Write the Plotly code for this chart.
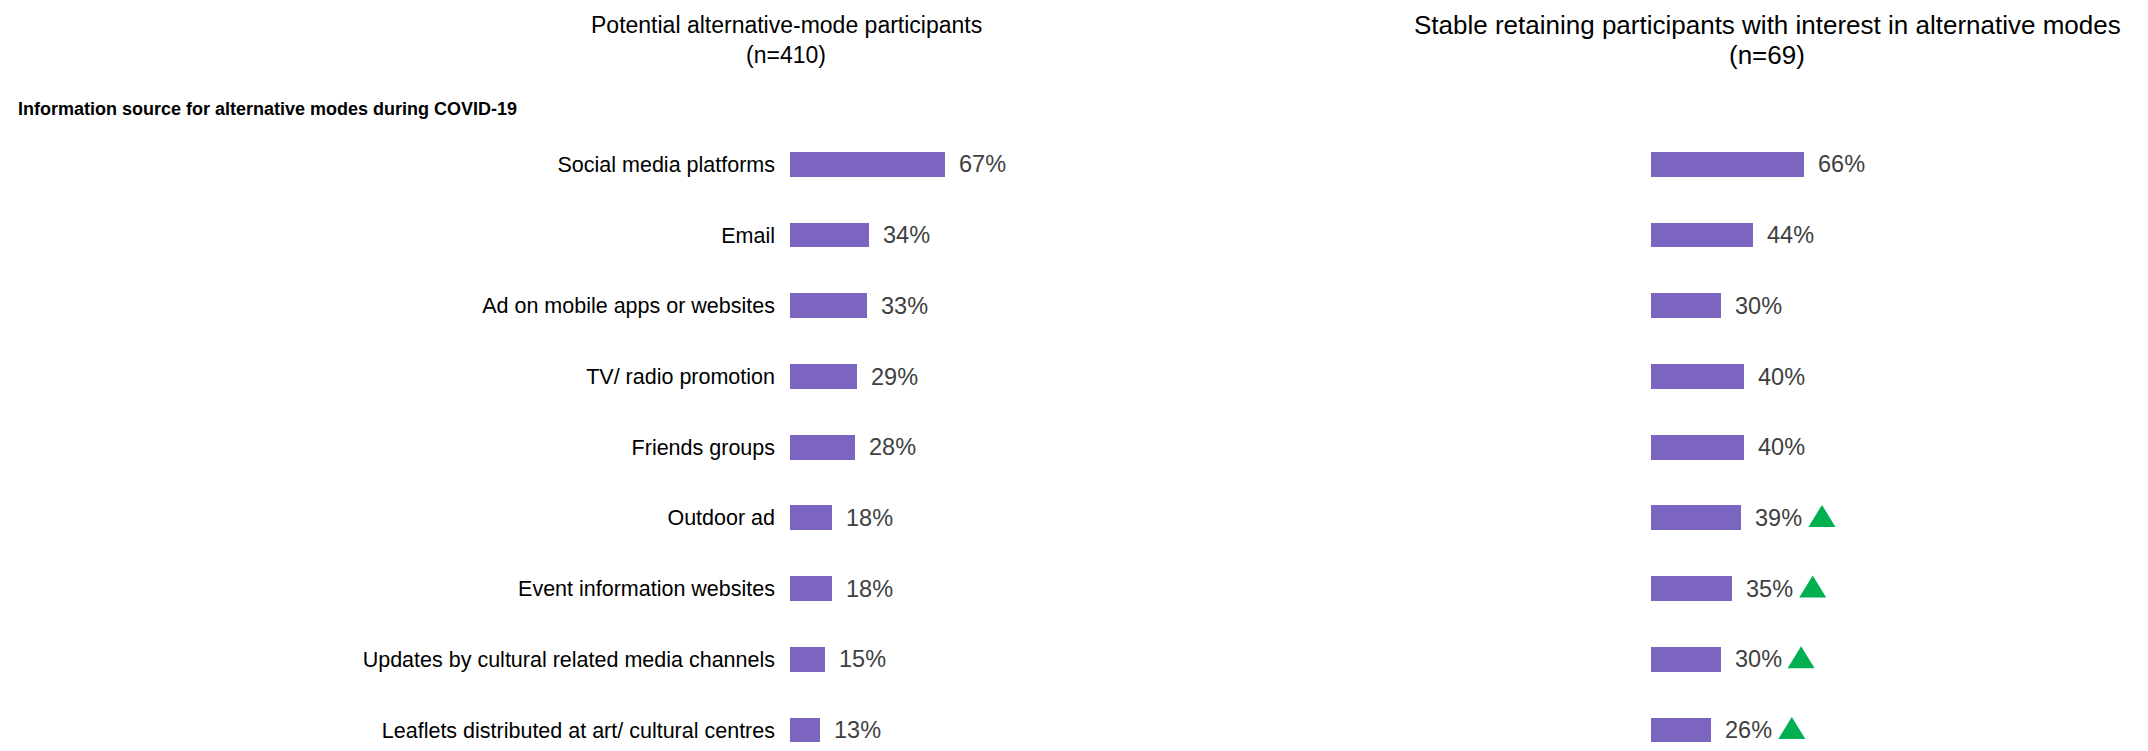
import plotly.graph_objects as go

# ---- data ----
categories = [
    "Social media platforms",
    "Email",
    "Ad on mobile apps or websites",
    "TV/ radio promotion",
    "Friends groups",
    "Outdoor ad",
    "Event information websites",
    "Updates by cultural related media channels",
    "Leaflets distributed at art/ cultural centres",
]
potential_pct = [67, 34, 33, 29, 28, 18, 18, 15, 13]
stable_pct = [66, 44, 30, 40, 40, 39, 35, 30, 26]
stable_up = [False, False, False, False, False, True, True, True, True]

left_title = ["Potential alternative-mode participants", "(n=410)"]
right_title = ["Stable retaining participants with interest in alternative modes", "(n=69)"]
section_title = "Information source for alternative modes during COVID-19"

# page is 2148x751, the html body adds an 8px margin around the figure
PAGE_W, PAGE_H, BODY = 2148, 751, 8
W, H = PAGE_W - 2 * BODY, PAGE_H - 2 * BODY


def px(x):
    return (x - BODY) / W


def py(y):
    return 1 - (y - BODY) / H


FONT = "Liberation Sans, Arial, sans-serif"
BAR = "#7C64C1"
GREEN = "#00B050"
PCT_GREY = "#404040"

fig = go.Figure()

fig.add_trace(go.Bar(
    x=potential_pct, y=categories, orientation="h",
    marker=dict(color=BAR, line=dict(width=0)),
    width=0.352, xaxis="x", yaxis="y", hoverinfo="skip",
))
fig.add_trace(go.Bar(
    x=stable_pct, y=categories, orientation="h",
    marker=dict(color=BAR, line=dict(width=0)),
    width=0.352, xaxis="x2", yaxis="y2", hoverinfo="skip",
))

annotations = []
shapes = []
for cat, v in zip(categories, potential_pct):
    annotations.append(dict(
        x=v, y=cat, xref="x", yref="y", text=f"{v}%", showarrow=False,
        xanchor="left", yanchor="middle", xshift=12,
        font=dict(family=FONT, size=23.5, color=PCT_GREY),
    ))
for cat, v, up in zip(categories, stable_pct, stable_up):
    annotations.append(dict(
        x=v, y=cat, xref="x2", yref="y2", text=f"{v}%", showarrow=False,
        xanchor="left", yanchor="middle", xshift=12,
        font=dict(family=FONT, size=23.5, color=PCT_GREY),
    ))
    if up:
        shapes.append(dict(
            type="path", xref="x2", yref="y2",
            xsizemode="pixel", ysizemode="pixel",
            xanchor=v, yanchor=cat,
            path="M67,-9 L94,-9 L80.5,13 Z",
            fillcolor=GREEN, line=dict(width=0),
        ))

# titles
for cx, lines, size in [(786, left_title, 23), (1767, right_title, 26)]:
    for cy, line in zip([25, 55], lines):
        annotations.append(dict(
            x=px(cx), y=py(cy), xref="paper", yref="paper", text=line,
            showarrow=False, xanchor="center", yanchor="middle",
            font=dict(family=FONT, size=size, color="black"),
        ))
annotations.append(dict(
    x=px(16), y=py(109), xref="paper", yref="paper",
    text=f"<b>{section_title}</b>", showarrow=False,
    xanchor="left", yanchor="middle",
    font=dict(family=FONT, size=18, color="black"),
))

row0, step = 164.4, 70.7
top_y = row0 - step / 2
ydom = [0, py(top_y)]
yrange = [(PAGE_H - BODY - row0) / step, -0.5]
unit = 2.32  # px per percentage point

fig.update_layout(
    width=W, height=H,
    margin=dict(l=0, r=0, t=0, b=0),
    paper_bgcolor="white", plot_bgcolor="white",
    showlegend=False,
    bargap=0,
    xaxis=dict(domain=[px(790), px(790 + 100 * unit)], range=[0, 100],
               visible=False, fixedrange=True),
    xaxis2=dict(domain=[px(1651), px(1651 + 100 * unit)], range=[0, 100],
                visible=False, fixedrange=True),
    yaxis=dict(domain=ydom, range=yrange, type="category",
               showgrid=False, zeroline=False, showline=False, ticks="",
               ticklabelstandoff=14,
               tickfont=dict(family=FONT, size=21.5, color="black")),
    yaxis2=dict(domain=ydom, range=yrange, type="category", anchor="x2",
                showgrid=False, zeroline=False, showline=False,
                showticklabels=False, ticks=""),
    annotations=annotations,
    shapes=shapes,
)

fig.write_html("out.html")
